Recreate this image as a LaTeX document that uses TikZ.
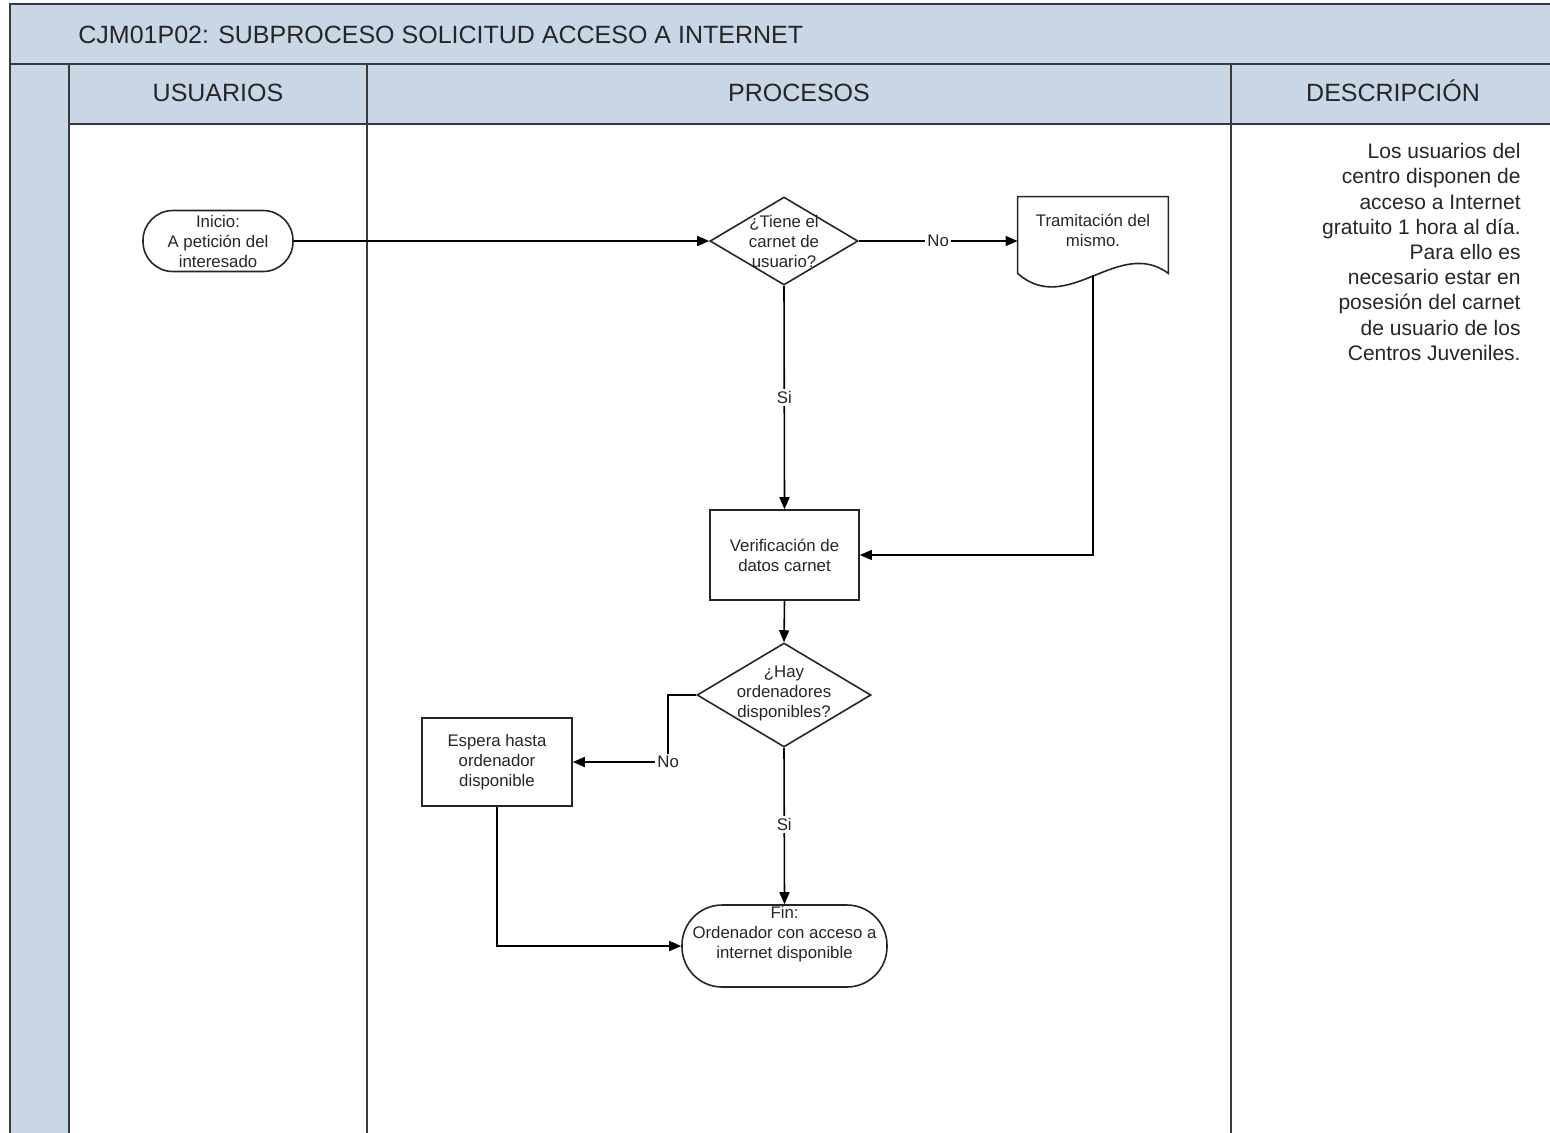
\documentclass[tikz,border=0pt]{standalone}
\usepackage{fontspec}
\setmainfont{Liberation Sans}
\usetikzlibrary{arrows.meta,shapes.geometric}
\definecolor{lane}{RGB}{201,214,229}
\definecolor{rule}{RGB}{58,58,58}

\begin{document}
\begin{tikzpicture}[x=0.5pt,y=-0.5pt,
  frame/.style={draw=rule,line width=1.1pt},
  head/.style={font=\fontsize{12.5}{15}\selectfont,text=black!85,inner sep=0pt,anchor=base},
  shp/.style={draw=black!85,line width=0.8pt,fill=white},
  txt/.style={font=\fontsize{8.4}{10}\selectfont,align=center,inner sep=0pt,text=black!85},
  proc/.style={shp,txt,minimum width=75pt,minimum height=44.5pt},
  term/.style={shp,txt,minimum height=#1,rounded corners=0.49*#1},
  dec/.style={shp,diamond,inner sep=0pt},
  lbl/.style={txt,fill=white,inner sep=1pt},
  arr/.style={draw=black,line width=0.8pt,-{Triangle[length=6pt,width=5pt]}},
  desc/.style={font=\fontsize{10.5}{12.6}\selectfont,align=right,inner sep=0pt,text=black!85}
]
\useasboundingbox (0,0) rectangle (1550,1132);
\fill[white] (0,0) rectangle (1550,1132);

% swimlane frame
\fill[lane] (10,4) rectangle (1560,64);
\fill[lane] (10,64) rectangle (69,1140);
\fill[lane] (69,64) rectangle (1560,124);
\draw[frame] (10,1140) -- (10,4) -- (1560,4);
\draw[frame] (10,64) -- (1560,64);
\draw[frame] (69,124) -- (1560,124);
\draw[frame] (69,64) -- (69,1140);
\draw[frame] (367,64) -- (367,1140);
\draw[frame] (1231,64) -- (1231,1140);

\node[head,anchor=base west] (title) at (78,43) {CJM01P02: SUBPROCESO SOLICITUD ACCESO A INTERNET};
\node[head] (hu) at (218,101) {USUARIOS};
\node[head] (hp) at (799,101) {PROCESOS};
\node[head] (hd) at (1393,101) {DESCRIPCIÓN};

% flow nodes
\node[term=30.5pt,minimum width=75pt] (start) at (218,241) {Inicio:\\A petición del\\interesado};
\node[dec,minimum width=74pt,minimum height=44pt] (d1) at (784,241) {};
\node[txt] (d1t) at (784,241) {¿Tiene el\\carnet de\\usuario?};

\node[minimum width=75pt,minimum height=38pt,inner sep=0pt] (doc) at (1093,235) {};
\draw[shp] (doc.south west) -- (doc.north west) -- (doc.north east) -- (doc.south east)
  .. controls +(-50,-37) and +(50,44) .. (doc.south west) -- cycle;
\node[txt] (doct) at (1093,230) {Tramitación del\\mismo.};
\coordinate (docb) at (1093,275);

\node[proc,minimum width=74.5pt,minimum height=45pt] (verif) at (784.5,555) {Verificación de\\datos carnet};
\node[dec,minimum width=87pt,minimum height=52pt] (d2) at (784,695) {};
\node[txt] (d2t) at (784,693) {¿Hay\\ordenadores\\disponibles?};
\node[proc,minimum height=44pt] (espera) at (497,762) {Espera hasta\\ordenador\\disponible};
\node[term=41pt,minimum width=102.5pt] (fin) at (784.5,946) {};
\node[txt] (fint) at (784.5,934) {Fin:\\Ordenador con acceso a\\internet disponible};

% connectors
\draw[arr] (start.east) -- (d1.west);
\draw[arr] (d1.east) -- node[lbl]{No} (d1.east -| doc.west);
\draw[arr] (d1.south) -- node[lbl]{Si} (verif.north);
\draw[arr] (docb) |- (verif.east);
\draw[arr] (verif.south) -- (d2.north);
\draw[arr] (d2.west) -- ++(-28,0) |- node[lbl,pos=0.5]{No} (espera.east);
\draw[arr] (d2.south) -- node[lbl,pos=0.49]{Si} (fin.north);
\draw[arr] (espera.south) |- (fin.west);

% description column
\node[desc,anchor=north east] (desc) at (1521,143) {Los usuarios del\\centro disponen de\\acceso a Internet\\gratuito 1 hora al día.\\Para ello es\\necesario estar en\\posesión del carnet\\de usuario de los\\Centros Juveniles.};
\end{tikzpicture}
\end{document}
